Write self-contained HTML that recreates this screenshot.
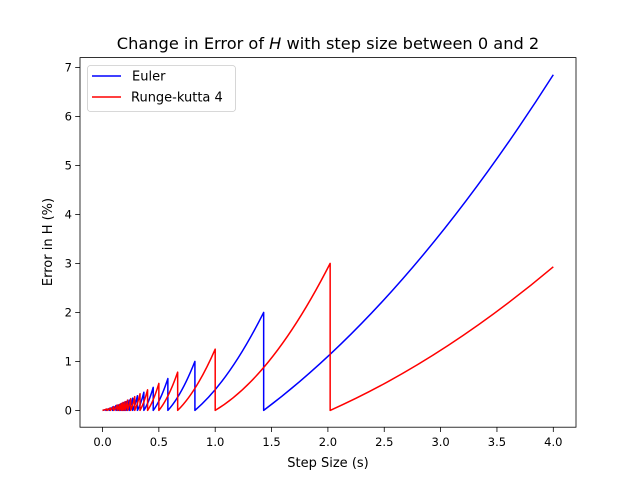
<!DOCTYPE html>
<html><head><meta charset="utf-8"><style>
body{margin:0;background:#fff;}
svg{display:block;font-family:"DejaVu Sans","Liberation Sans",sans-serif;}
</style></head><body>
<svg id="chart" width="640" height="480" viewBox="0 0 640 480">
<rect width="640" height="480" fill="#fff"/>
<g id="ticks"></g>
<g id="series"></g>
<rect x="80" y="57.6" width="496" height="369.6" fill="none" stroke="#000" stroke-width="0.8"/>
<text x="328" y="49" text-anchor="middle" font-size="16.2">Change in Error of <tspan font-style="italic">H</tspan> with step size between 0 and 2</text>
<text x="328" y="467" text-anchor="middle" font-size="13">Step Size (s)</text>
<text x="52" y="242" text-anchor="middle" font-size="13" transform="rotate(-90 52 242)">Error in H (%)</text>
<g>
<rect x="87.5" y="65.5" width="148" height="46" rx="3" fill="#fff" fill-opacity="0.8" stroke="#ccc" stroke-width="0.8"/>
<line x1="92" y1="76" x2="121" y2="76" stroke="#0000ff" stroke-width="1.5"/>
<text x="132" y="80.5" font-size="13">Euler</text>
<line x1="92" y1="97" x2="121" y2="97" stroke="#ff0000" stroke-width="1.5"/>
<text x="131" y="101.5" font-size="13">Runge-kutta 4</text>
</g>
</svg>
<script>
const xTicks = [0,0.5,1,1.5,2,2.5,3,3.5,4];
const xTickLabels = ["0.0","0.5","1.0","1.5","2.0","2.5","3.0","3.5","4.0"];
const yTicks = [0,1,2,3,4,5,6,7];
const yTickLabels = ["0","1","2","3","4","5","6","7"];
const eulerPeakX = [0.03,0.06,0.09,0.12,0.14,0.16,0.175,0.19,0.21,0.237,0.268,0.31,0.367,0.45,0.58,0.82,1.43,4.0];
const eulerPeakY = [0.02,0.04,0.07,0.1,0.11,0.13,0.145,0.16,0.18,0.21,0.25,0.3,0.37,0.47,0.65,1.0,2.0,6.85];
const eulerMidY = [0.008,0.016,0.028,0.04,0.045,0.05,0.058,0.064,0.07,0.08,0.1,0.12,0.15,0.19,0.26,0.4,0.8,2.82];
const rkPeakX = [0.04,0.07,0.1,0.13,0.15,0.167,0.182,0.2,0.222,0.25,0.286,0.333,0.4,0.5,0.667,1.0,2.02,4.0];
const rkPeakY = [0.03,0.05,0.08,0.11,0.12,0.14,0.16,0.18,0.21,0.24,0.28,0.34,0.42,0.55,0.78,1.25,3.0,2.93];
const rkMidY = [0.012,0.02,0.032,0.044,0.048,0.056,0.064,0.07,0.08,0.1,0.11,0.14,0.17,0.22,0.31,0.5,1.1,1.24];
const NS="http://www.w3.org/2000/svg";
const X=v=>102.5+v*112.7;
const Y=v=>410.4-v*49.0;
const tg=document.getElementById('ticks');
function mk(t,a,p){const e=document.createElementNS(NS,t);for(const k in a)e.setAttribute(k,a[k]);p.appendChild(e);return e;}
xTicks.forEach((v,i)=>{
 const l=mk('line',{x1:X(v),x2:X(v),y1:427.2,y2:432,stroke:'#000','stroke-width':0.8},tg);
 
 
 const t=mk('text',{x:X(v),y:446,'text-anchor':'middle','font-size':11.5},tg);t.textContent=xTickLabels[i];
 
 
});
yTicks.forEach((v,i)=>{
 const l=mk('line',{x1:75.2,x2:80,y1:Y(v),y2:Y(v),stroke:'#000','stroke-width':0.8},tg);
 
 
 const t=mk('text',{x:72,y:Y(v)+4.2,'text-anchor':'end','font-size':11.5},tg);t.textContent=yTickLabels[i];
 
 
});
function teeth(px,py,my){
 let d='',x0=0;
 for(let i=0;i<px.length;i++){
  const x1=px[i],y1=py[i],xm=(x0+x1)/2,ym=my[i];
  const cy=2*ym-0.5*y1;
  d+=(i===0?'M':'L')+X(x0)+','+Y(0)+' Q'+X(xm)+','+Y(cy)+' '+X(x1)+','+Y(y1)+' ';
  x0=x1;
 }
 return d;
}
const sg=document.getElementById('series');
const e=mk('path',{d:teeth(eulerPeakX,eulerPeakY,eulerMidY),fill:'none',stroke:'#0000ff','stroke-width':1.5,'stroke-linejoin':'round'},sg);


const r=mk('path',{d:teeth(rkPeakX,rkPeakY,rkMidY),fill:'none',stroke:'#ff0000','stroke-width':1.5,'stroke-linejoin':'round'},sg);


</script>
</body></html>
